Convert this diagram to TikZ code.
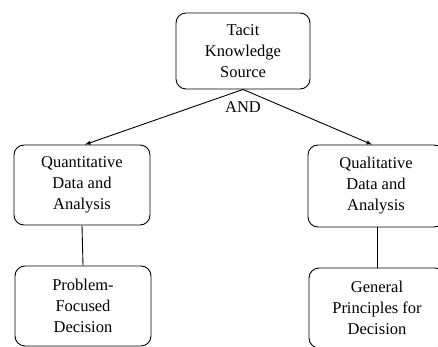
\documentclass[tikz,border=0pt]{standalone}
\usepackage{fontspec}
\setmainfont{Liberation Serif}
\newfontfamily\boxfont{Liberation Serif}
\tikzset{
  box/.style={draw, line width=0.9pt, rounded corners=10pt, align=center, inner sep=0pt,
    minimum width=136pt, minimum height=80pt, font=\boxfont\fontsize{16.5}{21}\selectfont},
  link/.style={draw, line width=0.9pt}
}
\begin{document}
\begin{tikzpicture}[x=1pt,y=1pt,yscale=-1,xscale=1]
\path[use as bounding box] (0,0) rectangle (438,347);
\clip (0,0) rectangle (438,347);

%Boxes
\node[box, minimum height=76pt, minimum width=134pt] (tacit) at (243,51) {Tacit\\Knowledge\\Source};
\node[box] (quant) at (82,185) {Quantitative\\Data and\\Analysis};
\node[box, minimum height=82pt] (qual) at (376,186) {Qualitative\\Data and\\Analysis};
\node[box] (prob) at (83,306) {Problem-\\Focused\\Decision};
\node[box] (gen) at (377,308) {General\\Principles for\\Decision};

%Label
\node[font=\boxfont\fontsize{16.5}{21}\selectfont, inner sep=1pt] (andlbl) at (243,107) {AND};

%Connectors
\draw[link, -{latex}, >=latex] (tacit.south) -- ([xshift=3pt]quant.north);
\draw[link, -latex] (tacit.south) -- ([xshift=-4pt]qual.north);
\draw[link] (quant.south) -- (prob.north);
\draw[link] ([xshift=1pt]qual.south) -- (gen.north);
\end{tikzpicture}
\end{document}
